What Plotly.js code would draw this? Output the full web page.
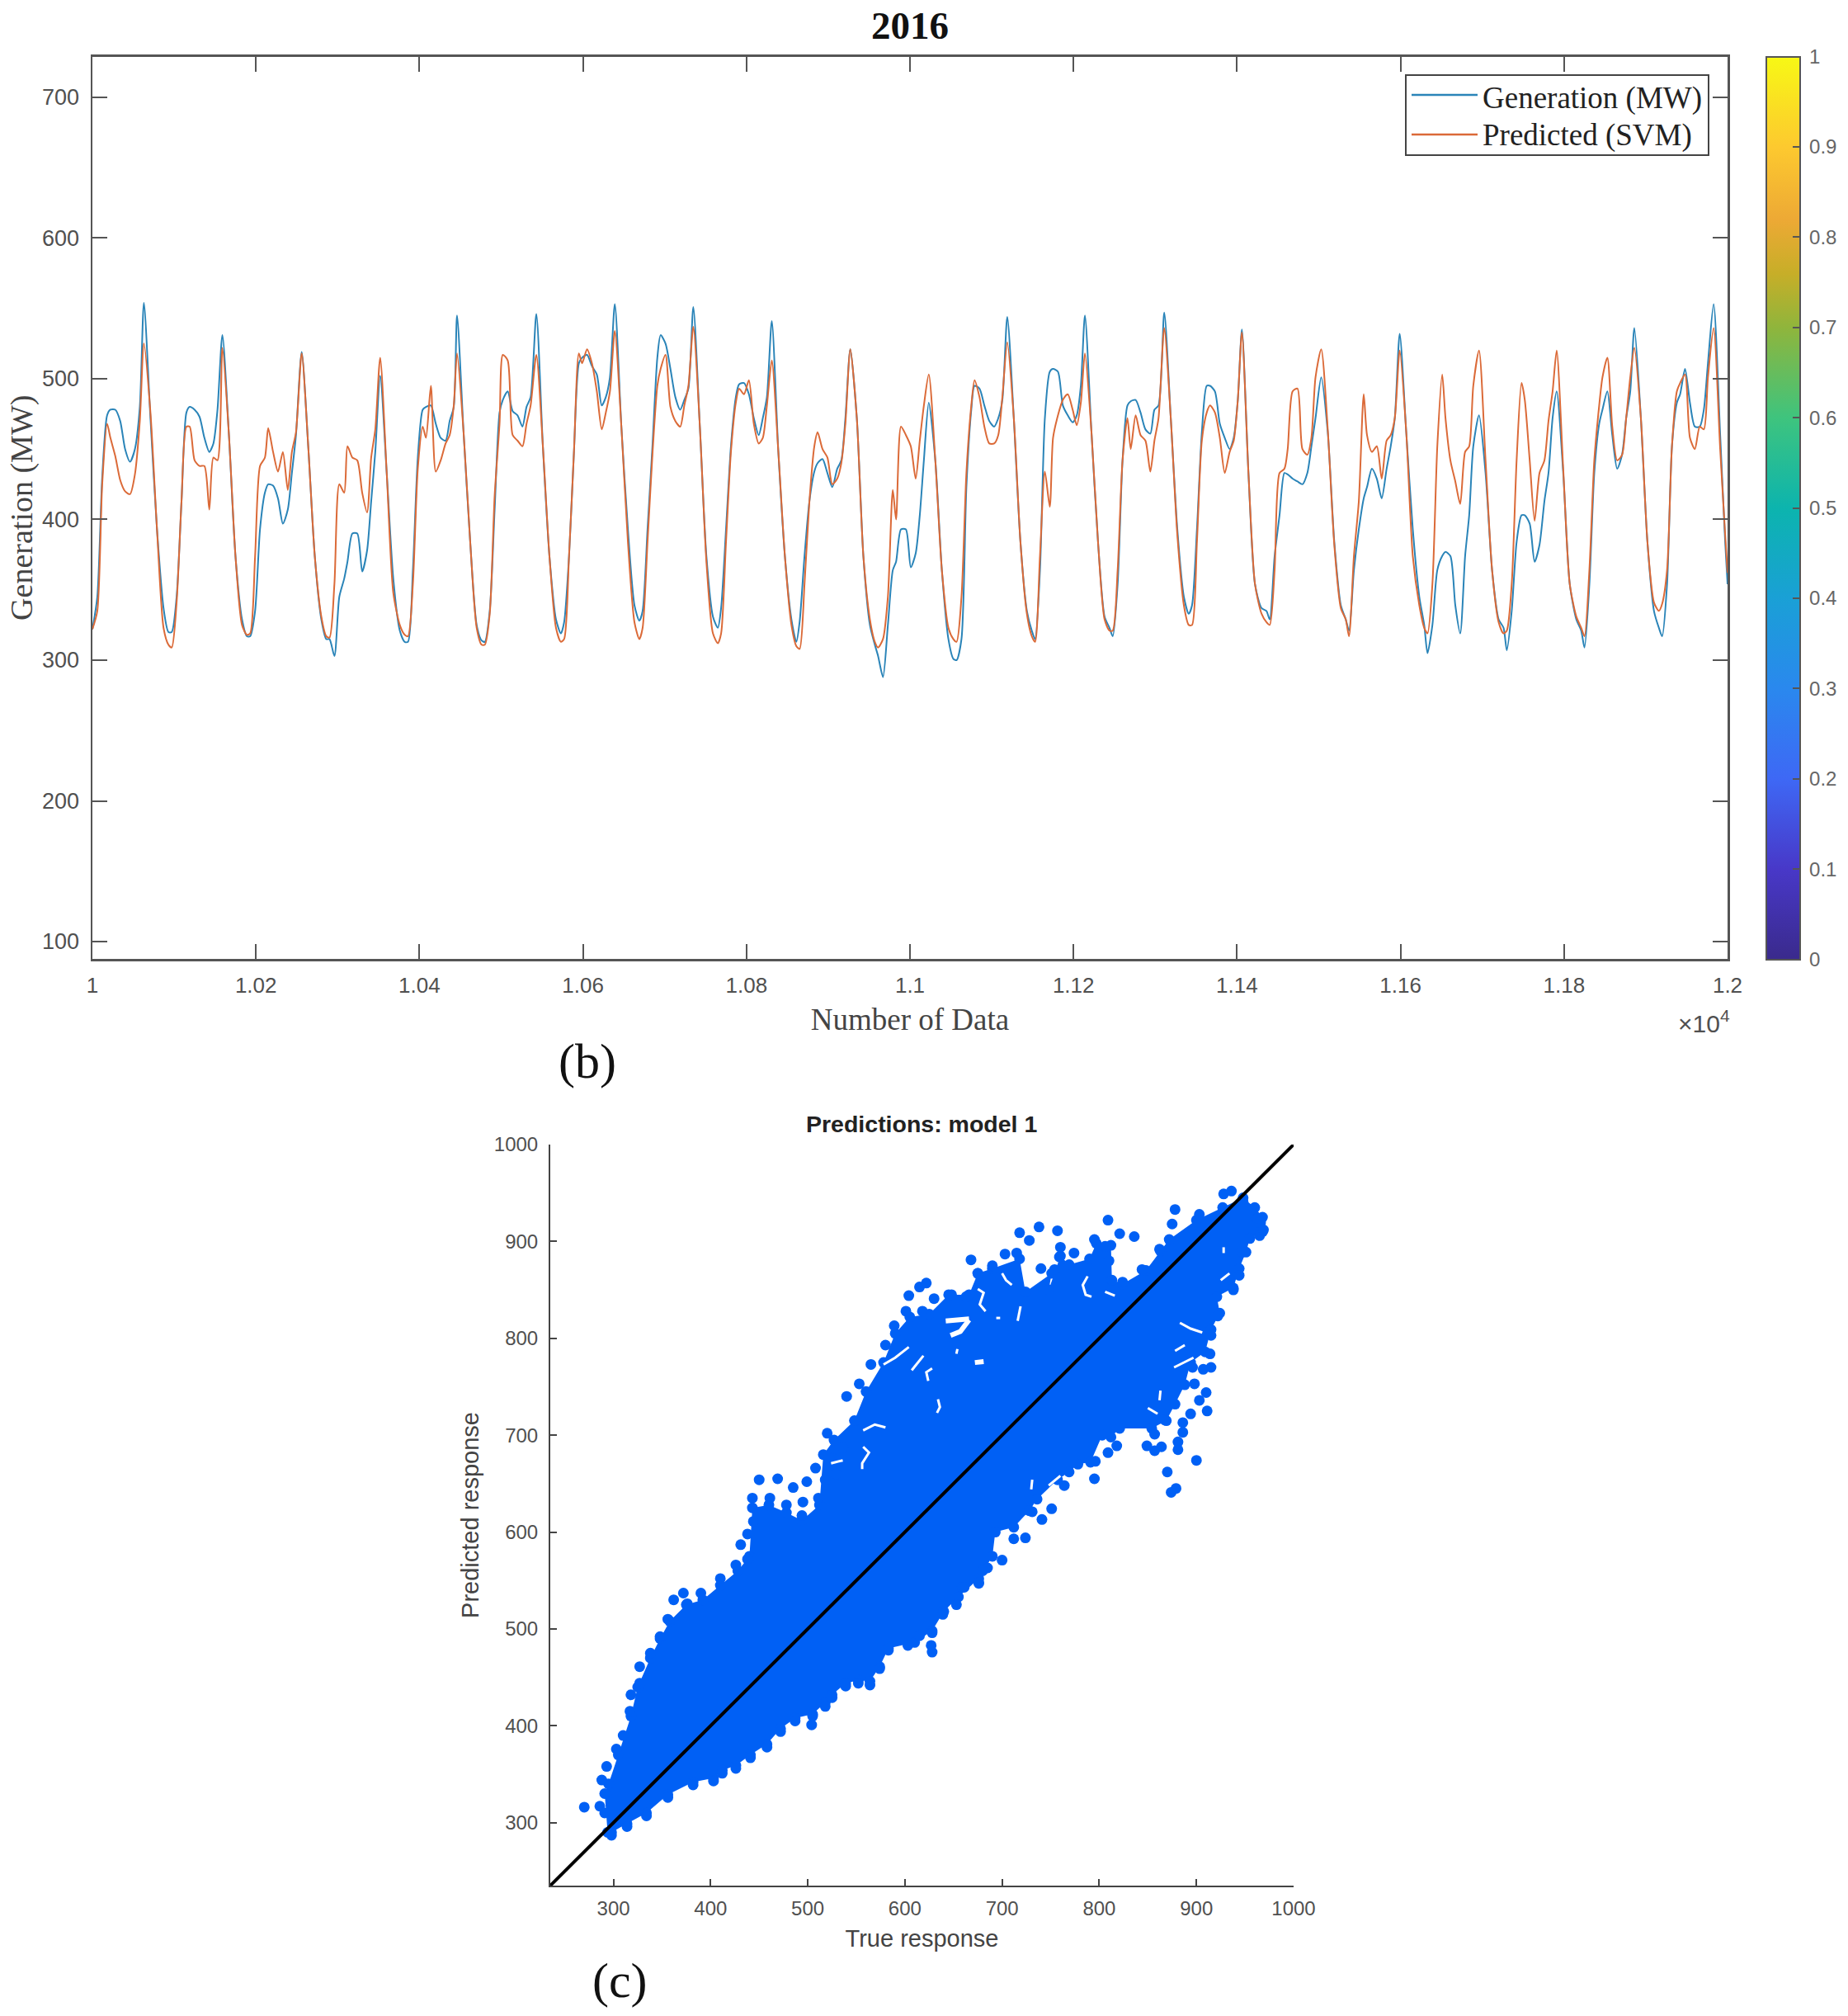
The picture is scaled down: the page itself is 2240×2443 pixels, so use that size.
<!DOCTYPE html>
<html>
<head>
<meta charset="utf-8">
<script src="https://cdn.plot.ly/plotly-3.0.1.min.js"></script>
<style>html,body{margin:0;padding:0;background:#fff}</style>
</head>
<body>
<div id="chart" style="width:2240px;height:2443px"></div>
<script>
const dataNumber = [10000,10006,10012,10018,10022,10028,10034,10040,10046,10052,10058,10063,
10071,10079,10087,10093,10097,10103,10109,10115,10119,10125,10131,10137,10143,10148,10153,10159,
10167,10175,10183,10189,10193,10199,10205,10211,10215,10221,10227,10233,10239,10244,10249,10256,
10264,10272,10280,10286,10290,10296,10302,10308,10312,10318,10324,10330,10336,10341,10346,10352,
10360,10368,10376,10382,10386,10392,10398,10404,10408,10414,10420,10426,10432,10437,10442,10446,
10454,10462,10470,10476,10480,10486,10492,10498,10502,10508,10514,10520,10526,10531,10536,10543,
10551,10559,10567,10573,10577,10583,10589,10595,10599,10605,10611,10617,10623,10628,10633,10639,
10647,10655,10663,10669,10673,10679,10685,10691,10695,10701,10707,10713,10719,10724,10729,10735,
10743,10751,10759,10765,10769,10775,10781,10787,10791,10797,10803,10809,10815,10820,10825,10831,
10839,10847,10855,10861,10865,10871,10877,10883,10887,10893,10899,10905,10911,10916,10921,10927,
10935,10943,10951,10957,10961,10967,10973,10979,10983,10989,10995,11001,11007,11012,11017,11023,
11031,11039,11047,11053,11057,11063,11069,11075,11079,11085,11091,11097,11103,11108,11113,11119,
11127,11135,11143,11149,11153,11159,11165,11171,11175,11181,11187,11193,11199,11204,11209,11214,
11222,11230,11238,11244,11248,11254,11260,11266,11270,11276,11282,11288,11294,11299,11304,11311,
11319,11327,11335,11341,11345,11351,11357,11363,11367,11373,11379,11385,11391,11396,11401,11406,
11414,11422,11430,11436,11440,11446,11452,11458,11462,11468,11474,11480,11486,11491,11496,11503,
11511,11519,11527,11533,11537,11543,11549,11555,11559,11565,11571,11577,11583,11588,11593,11599,
11607,11615,11623,11629,11633,11639,11645,11651,11655,11661,11667,11673,11679,11684,11689,11696,
11704,11712,11720,11726,11730,11736,11742,11748,11752,11758,11764,11770,11776,11781,11786,11791,
11799,11807,11815,11821,11825,11831,11837,11843,11847,11853,11859,11865,11871,11876,11881,11886,
11894,11902,11910,11916,11920,11926,11932,11938,11942,11948,11954,11960,11966,11971,11976,11983,
11991,11997,12000];

const generation = [322,345,430,474,478,478,470,450,441,450,480,554,
472,393,337,320,320,345,413,476,480,478,473,458,448,454,478,531,
460,374,329,317,317,335,393,419,425,424,415,397,407,433,460,519,
452,374,329,315,315,303,345,358,370,390,390,363,378,413,448,502,
433,358,321,313,313,364,444,478,480,481,468,458,456,470,480,545,
462,385,325,314,313,335,407,476,485,491,477,474,466,480,487,546,
452,374,329,319,327,374,448,511,515,517,509,503,481,487,501,553,
466,393,339,328,335,393,452,515,531,525,507,487,478,485,493,551,
466,374,331,323,337,393,452,487,496,497,489,472,460,472,487,541,
448,374,329,313,327,374,413,434,440,443,433,423,436,442,472,521,
472,374,325,311,303,288,325,364,370,393,393,366,376,403,442,483,
442,364,315,301,300,315,423,478,495,493,481,470,466,472,485,544,
472,385,335,321,315,364,472,505,507,505,481,474,469,474,495,545,
462,384,331,323,317,354,442,481,484,485,476,464,461,478,481,547,
472,393,345,333,339,393,462,495,495,491,468,458,450,458,485,535,
433,354,337,335,329,374,403,433,432,429,427,425,433,452,472,501,
462,384,339,329,321,364,393,415,423,436,429,415,436,452,472,532,
462,393,345,325,305,325,364,374,377,374,339,319,374,403,452,474,
433,364,329,323,307,335,384,403,403,397,370,382,413,433,472,491,
433,354,329,321,309,354,433,468,478,491,460,436,446,472,491,536,
472,384,335,323,317,354,452,483,489,507,483,466,466,478,511,553,
460,385,354];

const predicted = [322,335,425,468,458,445,428,420,418,432,470,525,
476,393,323,311,309,341,413,466,466,442,438,438,407,444,442,522,
460,374,325,318,319,374,438,444,465,448,434,448,421,448,462,518,
452,374,331,317,316,354,425,419,452,444,442,419,405,444,464,515,
433,348,325,318,317,354,436,466,458,495,434,442,454,460,481,518,
462,385,323,311,311,333,417,468,517,513,460,456,452,468,481,517,
452,374,323,313,315,374,448,518,511,521,511,491,464,476,491,534,
466,384,327,315,323,384,446,495,507,517,480,470,466,481,495,537,
466,370,319,312,319,384,448,483,493,489,499,468,454,458,481,513,
448,374,325,310,308,354,413,452,462,450,444,425,429,440,468,521,
472,374,329,313,309,315,345,421,400,466,460,452,429,456,481,503,
442,364,323,315,313,345,433,481,499,487,466,454,454,460,487,526,
472,385,333,317,313,374,434,409,458,474,485,489,478,467,483,518,
462,384,329,321,321,364,442,472,450,474,460,456,434,456,472,536,
472,389,339,325,325,384,456,476,481,476,458,433,448,456,485,533,
433,354,333,327,325,364,433,436,450,491,493,450,446,458,501,521,
464,382,337,329,317,374,413,489,460,448,452,429,456,460,472,520,
462,374,339,323,319,354,452,503,472,442,427,411,448,452,495,520,
442,364,327,319,321,354,442,497,485,442,399,433,442,470,491,520,
436,354,331,323,317,364,442,481,501,515,466,442,446,472,501,522,
472,384,341,335,340,364,452,491,497,503,458,450,466,464,501,536,
450,390,362];

const xTickVals = [10000,10200,10400,10600,10800,11000,11200,11400,11600,11800,12000];
const xTickText = ['1','1.02','1.04','1.06','1.08','1.1','1.12','1.14','1.16','1.18','1.2'];
const yTickVals = [100,200,300,400,500,600,700];
const cbTicks = [0,0.1,0.2,0.3,0.4,0.5,0.6,0.7,0.8,0.9,1];
const parula = [[0,'#3a2a8c'],[0.1,'#4838c8'],[0.2,'#3e68f5'],[0.3,'#2a88ee'],[0.4,'#1aa0d6'],[0.5,'#0cb4ae'],
  [0.6,'#3ec47e'],[0.7,'#8fb53c'],[0.76,'#c7ae28'],[0.82,'#eda935'],[0.9,'#fdc92f'],[1,'#f7f815']];

// solid body of the scatter: outline
const coreTrueUpper = [291,295,305,318,325,338,348,358,375,392,410,428,440,443,460,478,494,512,516,527,548,560,578,590,605,625,645,666,675,690,718,724,751,748,760,769,790,797,812,813,824,848,863,872,900,927,948];
const corePredUpper = [330,340,370,410,440,470,490,508,525,530,545,560,575,625,628,620,612,628,680,695,715,745,775,805,822,825,845,845,867,872,882,848,867,850,885,876,882,898,896,860,856,870,890,902,922,935,945];
const coreTrueLower = [960,968,968,955,951,944,938,921,924,915,909,894,888,878,869,854,821,812,803,791,778,769,757,736,728,712,693,690,676,655,640,628,610,583,574,564,552,539,525,518,505,487,472,458,441,426,412,403,382,356,334,314,298,294];
const corePredLower = [935,925,910,903,889,872,852,843,826,809,786,775,752,732,715,707,707,698,700,672,670,662,654,634,622,605,600,575,552,533,518,498,486,480,461,446,447,444,432,424,412,408,397,381,370,359,354,346,342,329,310,299,290,290];

// thin white slits between the points, and the few wider gaps
const slitTrue = [578,590,604,null,607,615,619,null,628,622,624,null,634,636,633,null,557,569,580,null,557,563,556,556,null,
  675,681,677,683,null,700,704,710,null,719,716,null,788,783,786,792,null,806,816,null,883,894,906,null,878,888,null,877,897,null,
  862,863,null,850,860,null,928,928,null,925,934,null,524,536,null,731,730,null,748,760,null,653,654,null,694,698];
const slitPred = [773,780,791,null,767,777,782,null,769,765,756,null,737,729,723,null,705,711,708,null,688,682,671,665,null,
  851,847,835,828,null,867,860,855,null,833,818,null,864,855,845,843,null,848,844,null,816,810,806,null,787,793,null,770,780,null,
  736,746,null,728,722,null,894,888,null,860,867,null,671,674,null,654,644,null,648,658,null,784,789,null,821,821];
const gapTrue = [642,666,null,666,657,647,null,672,681];
const gapPred = [818,820,null,819,807,803,null,775,776];

// individually visible points around the body
const upperEdgeTrue = [270,286,288,291,293,303,310,317,318,327,327,338,348,356,362,372,376,390,410,426,438,431,438,444,443,461,478,494,495,511,450,469,485,499,518,529,
  508,520,525,536,540,553,565,580,589,601,618,604,615,622,630,648,663,668,675,690,703,715,718,728,738,757,760,759,774,740,754,795,806,809,821,836,810,824,844,862,875,878,903,928];
const upperEdgePred = [316,317,344,310,358,376,390,415,432,444,461,475,492,510,530,537,526,537,552,566,572,587,598,611,635,635,628,617,631,635,654,655,646,652,654,660,
  666,702,676,687,740,753,773,793,813,828,828,844,853,857,841,845,843,881,867,875,887,888,909,901,915,911,894,884,888,872,871,902,895,922,908,905,880,858,871,892,918,933,928,949];
const lowerEdgeTrue = [298,314,334,356,382,403,412,426,441,458,472,487,504,505,518,525,539,552,564,574,583,603,615,628,627,628,639,653,659,676,685,
  900,870,879,874,881,881,864,857,849,857,886,886,894,867,911,903,910,898,915,907,896,914,915,818,809,795,796,764,751,741,731,724,712,700,676,680,661,
  922,938,944,947,965,966,960,948,936,969,963];
const lowerEdgePred = [287,296,307,326,339,343,351,356,367,378,394,405,401,410,420,429,441,444,442,459,478,483,493,476,483,496,515,525,543,547,563,
  674,662,645,641,685,693,688,684,689,701,703,713,722,716,725,736,744,753,770,768,770,784,803,689,682,655,673,648,624,613,621,594,593,571,548,560,543,
  823,850,865,889,906,919,926,941,952,912,924];

const lineTrue = [235,1000];
const linePred = [235,1000];
const scatterXTicks = [300,400,500,600,700,800,900,1000];
const scatterYTicks = [300,400,500,600,700,800,900,1000];

const W = 2240, H = 2443;
const sans = 'Liberation Sans, Arial, sans-serif';
const serif = 'Liberation Serif, Times New Roman, serif';
const tickGrey = '#505050';
const pointBlue = '#0060f5';
const genColor = '#2a84b8';
const predColor = '#db6a38';
const markerPx = 13;

const traces = [
  {x:dataNumber, y:generation, name:'Generation (MW)', type:'scatter', mode:'lines',
   line:{color:genColor, width:2, shape:'spline', smoothing:0.7}, xaxis:'x', yaxis:'y'},
  {x:dataNumber, y:predicted, name:'Predicted (SVM)', type:'scatter', mode:'lines',
   line:{color:predColor, width:2, shape:'spline', smoothing:0.7}, xaxis:'x', yaxis:'y'},
  {x:[9000,9000], y:[400,400], type:'scatter', mode:'markers', hoverinfo:'skip', xaxis:'x', yaxis:'y',
   marker:{color:[0,1], cmin:0, cmax:1, colorscale:parula, showscale:true, opacity:0, size:1,
     colorbar:{x:2141/W, xanchor:'left', xpad:0, y:1-68.5/H, yanchor:'top', ypad:0,
       len:(1162-68.5)/H, lenmode:'fraction', thickness:41, thicknessmode:'pixels',
       tickmode:'array', tickvals:cbTicks, ticktext:cbTicks.map(v => '\u2009' + v), ticks:'inside', ticklen:10, tickwidth:2, tickcolor:'#555',
       tickfont:{family:sans, size:24, color:'#666'}, outlinecolor:'#555', outlinewidth:2, borderwidth:0}}},
  {x:coreTrueUpper.concat(coreTrueLower), y:corePredUpper.concat(corePredLower),
   type:'scatter', mode:'none', fill:'toself', fillcolor:pointBlue, xaxis:'x2', yaxis:'y2'},
  {x:coreTrueUpper.concat(coreTrueLower), y:corePredUpper.concat(corePredLower), type:'scatter', mode:'markers',
   marker:{color:pointBlue, size:markerPx}, xaxis:'x2', yaxis:'y2'},
  {x:upperEdgeTrue.concat(lowerEdgeTrue), y:upperEdgePred.concat(lowerEdgePred), type:'scatter', mode:'markers',
   marker:{color:pointBlue, size:markerPx}, xaxis:'x2', yaxis:'y2'},
  {x:slitTrue, y:slitPred, type:'scatter', mode:'lines', line:{color:'#fff', width:3}, xaxis:'x2', yaxis:'y2'},
  {x:gapTrue, y:gapPred, type:'scatter', mode:'lines', line:{color:'#fff', width:6}, xaxis:'x2', yaxis:'y2'},
  {x:lineTrue, y:linePred, type:'scatter', mode:'lines', line:{color:'#000', width:4}, xaxis:'x2', yaxis:'y2'}
];

const annotationAt = (px, py, text, size, family, color, anchor) => ({
  xref:'paper', yref:'paper', x:px/W, y:1-py/H, text, showarrow:false,
  xanchor:anchor || 'center', yanchor:'middle', font:{family, size, color}
});
const shapeLine = (x0, x1, y, color) => ({type:'line', xref:'paper', yref:'paper',
  x0:x0/W, x1:x1/W, y0:1-y/H, y1:1-y/H, line:{color, width:2.5}});

const layout = {
  width:W, height:H, autosize:false, paper_bgcolor:'#fff', plot_bgcolor:'#fff', showlegend:false,
  margin:{l:0,r:0,t:0,b:0,pad:0},
  title:{text:'<b>2016</b>', x:1103/W, xanchor:'center', y:1-31/H, yanchor:'middle', font:{family:serif, size:47, color:'#111'}},
  xaxis:{domain:[112/W,2094/W], range:[10000,12000], tickmode:'array', tickvals:xTickVals, ticktext:xTickText,
    ticks:'inside', ticklen:18, tickwidth:2, tickcolor:'#555', showline:true, linecolor:'#555', linewidth:2.5, mirror:'ticks',
    showgrid:false, zeroline:false, tickfont:{family:sans, size:26, color:tickGrey}, ticklabelstandoff:7,
    title:{text:'Number of Data', font:{family:serif, size:37, color:'#444'}, standoff:15}, anchor:'y'},
  yaxis:{domain:[1-1162/H,1-68.5/H], range:[87.7,729], tickmode:'array', tickvals:yTickVals,
    ticks:'inside', ticklen:18, tickwidth:2, tickcolor:'#555', showline:true, linecolor:'#555', linewidth:2.5, mirror:'ticks',
    showgrid:false, zeroline:false, tickfont:{family:sans, size:27, color:tickGrey}, ticklabelstandoff:8,
    title:{text:'Generation (MW)', font:{family:serif, size:38, color:'#444'}, standoff:0}, anchor:'x'},
  xaxis2:{domain:[667/W,1568/W], range:[235,1000], tickmode:'array', tickvals:scatterXTicks,
    ticks:'inside', ticklen:8, tickwidth:2, tickcolor:'#444', showline:true, linecolor:'#444', linewidth:2,
    showgrid:false, zeroline:false, tickfont:{family:sans, size:24, color:tickGrey}, ticklabelstandoff:5,
    title:{text:'True response', font:{family:sans, size:29, color:'#444'}, standoff:14}, anchor:'y2'},
  yaxis2:{domain:[1-2285/H,1-1387/H], range:[235,1000], tickmode:'array', tickvals:scatterYTicks,
    ticks:'inside', ticklen:8, tickwidth:2, tickcolor:'#444', showline:true, linecolor:'#444', linewidth:2,
    showgrid:false, zeroline:false, tickfont:{family:sans, size:24, color:tickGrey}, ticklabelstandoff:8,
    title:{text:'Predicted response', font:{family:sans, size:29, color:'#444'}, standoff:10}, anchor:'x2'},
  shapes:[
    {type:'rect', xref:'paper', yref:'paper', x0:1704/W, x1:2071/W, y0:1-188/H, y1:1-91/H,
     fillcolor:'#fff', line:{color:'#444', width:2}},
    shapeLine(1711, 1791, 115, genColor),
    shapeLine(1711, 1791, 163, predColor)
  ],
  annotations:[
    annotationAt(1795, 119, 'Generation (MW)', 37, serif, '#222', 'left'),
    annotationAt(1795, 164, 'Predicted (SVM)', 37, serif, '#222', 'left'),
    annotationAt(1117, 1362, '<b>Predictions: model 1</b>', 28.5, sans, '#222'),
    annotationAt(712, 1286, '(b)', 60, serif, '#111'),
    annotationAt(751, 2400, '(c)', 60, serif, '#111'),
    annotationAt(2065, 1238, '×10<sup>4</sup>', 30, sans, tickGrey)
  ]
};

Plotly.newPlot('chart', traces, layout, {displayModeBar:false, staticPlot:true});
</script>
</body>
</html>
